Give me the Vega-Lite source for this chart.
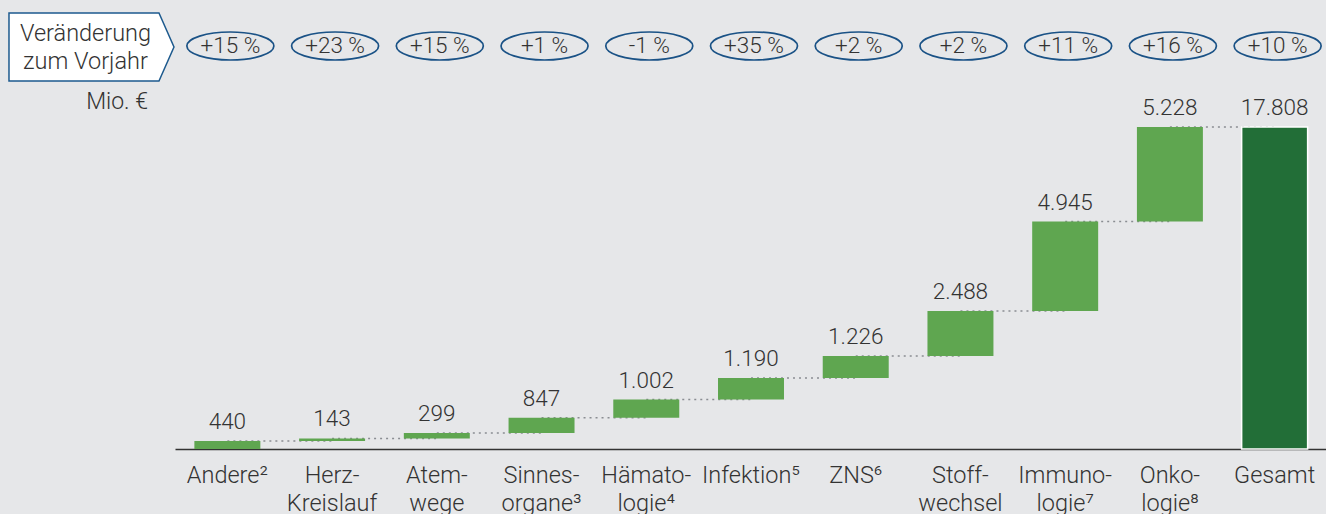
{
  "$schema": "https://vega.github.io/schema/vega-lite/v6.json",
  "background": "#e6e7e9",
  "padding": {"left": 5, "top": 10, "right": 0, "bottom": 0},
  "config": {
    "font": "Roboto",
    "view": {"stroke": null},
    "locale": {"number": {"decimal": ",", "thousands": ".", "grouping": [3], "currency": ["", " €"]}}
  },
  "datasets": {
    "wf": [
      {"cat": "Andere²", "val": 440, "start": 0, "end": 440, "pct": "+15 %", "next": "Herz-\nKreislauf", "type": "change"},
      {"cat": "Herz-\nKreislauf", "val": 143, "start": 440, "end": 583, "pct": "+23 %", "next": "Atem-\nwege", "type": "change"},
      {"cat": "Atem-\nwege", "val": 299, "start": 583, "end": 882, "pct": "+15 %", "next": "Sinnes-\norgane³", "type": "change"},
      {"cat": "Sinnes-\norgane³", "val": 847, "start": 882, "end": 1729, "pct": "+1 %", "next": "Hämato-\nlogie⁴", "type": "change"},
      {"cat": "Hämato-\nlogie⁴", "val": 1002, "start": 1729, "end": 2731, "pct": "-1 %", "next": "Infektion⁵", "type": "change"},
      {"cat": "Infektion⁵", "val": 1190, "start": 2731, "end": 3921, "pct": "+35 %", "next": "ZNS⁶", "type": "change"},
      {"cat": "ZNS⁶", "val": 1226, "start": 3921, "end": 5147, "pct": "+2 %", "next": "Stoff-\nwechsel", "type": "change"},
      {"cat": "Stoff-\nwechsel", "val": 2488, "start": 5147, "end": 7635, "pct": "+2 %", "next": "Immuno-\nlogie⁷", "type": "change"},
      {"cat": "Immuno-\nlogie⁷", "val": 4945, "start": 7635, "end": 12580, "pct": "+11 %", "next": "Onko-\nlogie⁸", "type": "change"},
      {"cat": "Onko-\nlogie⁸", "val": 5228, "start": 12580, "end": 17808, "pct": "+16 %", "next": "Gesamt", "type": "change"},
      {"cat": "Gesamt", "val": 17808, "start": 0, "end": 17808, "pct": "+10 %", "next": null, "type": "total"}
    ],
    "lbl": [{"t": "Veränderung\nzum Vorjahr"}]
  },
  "spacing": 0,
  "bounds": "flush",
  "hconcat": [
    {
      "data": {"name": "lbl"},
      "width": 169,
      "height": 74,
      "title": {"text": "Mio. €", "orient": "bottom", "anchor": "end", "dx": -29, "offset": 7, "fontSize": 23, "fontWeight": 300, "color": "#333333", "font": "Roboto"},
      "layer": [
        {
          "mark": {"type": "point", "shape": "M -0.988 -0.412 L 0.830 -0.412 L 1.012 0 L 0.830 0.412 L -0.988 0.412 Z", "size": 27225, "filled": true, "fill": "white", "stroke": "#1d5a8e", "strokeWidth": 1.5, "opacity": 1},
          "encoding": {}
        },
        {
          "mark": {"type": "text", "lineBreak": "\n", "align": "center", "baseline": "middle", "dx": -5, "dy": -13, "fontSize": 23.5, "fontWeight": 300, "lineHeight": 28, "color": "#333333"},
          "encoding": {"text": {"field": "t"}}
        }
      ]
    },
    {
      "spacing": 0,
      "vconcat": [
        {
          "data": {"name": "wf"},
          "width": 1152,
          "height": 74,
          "encoding": {
            "x": {"field": "cat", "type": "nominal", "sort": null, "axis": null, "scale": {"paddingInner": 0.37, "paddingOuter": 0.185}}
          },
          "layer": [
            {
              "mark": {"type": "point", "shape": "M -1 0 C -1 -0.178 -0.552 -0.322 0 -0.322 C 0.552 -0.322 1 -0.178 1 0 C 1 0.178 0.552 0.322 0 0.322 C -0.552 0.322 -1 0.178 -1 0 Z", "size": 7569, "filled": false, "stroke": "#1a5286", "strokeWidth": 1.7, "opacity": 1, "xOffset": 3, "yOffset": -1}
            },
            {
              "mark": {"type": "text", "align": "center", "baseline": "middle", "fontSize": 22.5, "fontWeight": 300, "color": "#333333", "xOffset": 3, "yOffset": -1},
              "encoding": {"text": {"field": "pct"}}
            }
          ]
        },
        {
          "data": {"name": "wf"},
          "width": 1152,
          "height": 365,
          "encoding": {
            "x": {
              "field": "cat", "type": "nominal", "sort": null,
              "scale": {"paddingInner": 0.37, "paddingOuter": 0.185},
              "axis": {"title": null, "labelAngle": 0, "labelExpr": "split(datum.label, '\\n')", "labelFontSize": 23.5, "labelFontWeight": 300, "labelFont": "Roboto", "labelColor": "#333333", "labelPadding": 14, "labelLineHeight": 28, "ticks": false, "domainColor": "#333333", "domainWidth": 1.5}
            }
          },
          "layer": [
            {
              "transform": [{"filter": "datum.next != null"}],
              "mark": {"type": "rule", "strokeDash": [2, 4], "color": "#8a8d92", "strokeWidth": 1.5},
              "encoding": {
                "x2": {"field": "next"},
                "y": {"field": "end", "type": "quantitative", "scale": {"domain": [0, 20186], "nice": false}, "axis": null}
              }
            },
            {
              "mark": {"type": "bar", "stroke": "white"},
              "encoding": {
                "y": {"field": "start", "type": "quantitative", "scale": {"domain": [0, 20186], "nice": false}, "axis": null},
                "y2": {"field": "end"},
                "color": {"field": "type", "type": "nominal", "scale": {"domain": ["change", "total"], "range": ["#5fa650", "#226e37"]}, "legend": null},
                "strokeWidth": {"condition": {"test": "datum.type == 'total'", "value": 1.5}, "value": 0}
              }
            },
            {
              "mark": {"type": "text", "baseline": "bottom", "dy": -7, "fontSize": 22.5, "fontWeight": 300, "color": "#333333"},
              "encoding": {
                "y": {"field": "end", "type": "quantitative", "scale": {"domain": [0, 20186], "nice": false}, "axis": null},
                "text": {"field": "val", "type": "quantitative", "format": ","}
              }
            }
          ]
        }
      ]
    }
  ]
}
